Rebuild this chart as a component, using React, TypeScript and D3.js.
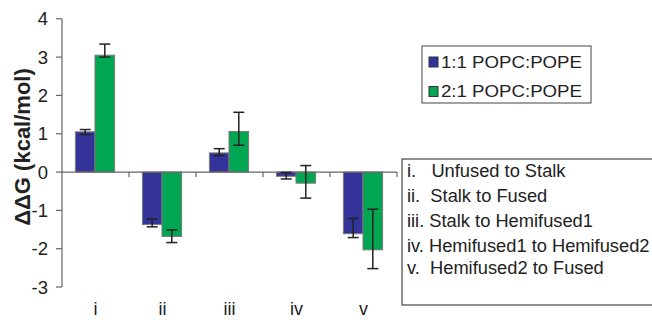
import React from "react";
import * as d3 from "d3";

const categories = ["i", "ii", "iii", "iv", "v"];
const seriesNames = ["1:1 POPC:POPE", "2:1 POPC:POPE"];
const seriesColors = ["#333399", "#00a651"];

// bar heights (kcal/mol)
const popc11 = [1.05, -1.37, 0.5, -0.11, -1.61];
const popc21 = [3.05, -1.68, 1.06, -0.29, -2.03];
// error bar ends, as drawn
const popc11Low = [0.98, -1.43, 0.43, -0.18, -1.71];
const popc11High = [1.11, -1.23, 0.61, -0.01, -1.21];
const popc21Low = [3.0, -1.84, 0.7, -0.68, -2.52];
const popc21High = [3.34, -1.51, 1.56, 0.17, -0.97];

const yTicks = [4, 3, 2, 1, 0, -1, -2, -3];

const stepLabels = [
  "i.   Unfused to Stalk",
  "ii.  Stalk to Fused",
  "iii. Stalk to Hemifused1",
  "iv. Hemifused1 to Hemifused2",
  "v.  Hemifused2 to Fused",
];

const font = "'Liberation Sans', Arial, sans-serif";

export default function App() {
  const width = 652;
  const height = 320;
  const plot = { left: 62, right: 397, top: 18.8, bottom: 287 };

  const y = d3.scaleLinear().domain([-3, 4]).range([plot.bottom, plot.top]);
  const x = d3
    .scaleBand<string>()
    .domain(categories)
    .range([plot.left, plot.right])
    .padding(0);
  const bw = x.bandwidth();
  const xs = d3
    .scaleBand<number>()
    .domain([0, 1])
    .range([bw * 0.2, bw * 0.785])
    .padding(0);

  const values = [popc11, popc21];
  const lows = [popc11Low, popc21Low];
  const highs = [popc11High, popc21High];
  const axisColor = "#666";
  const capHalf = 5.5;

  return (
    <svg
      width={width}
      height={height}
      style={{ position: "absolute", left: 0, top: 0, background: "#fff" }}
      fontFamily={font}
    >
      {/* bars */}
      {categories.map((c, ci) => (
        <g key={c} transform={`translate(${x(c)},0)`}>
          {values.map((vals, si) => {
            const v = vals[ci];
            const bx = xs(si) as number;
            return (
              <rect
                key={si}
                x={bx}
                y={y(Math.max(0, v))}
                width={xs.bandwidth()}
                height={Math.abs(y(v) - y(0))}
                fill={seriesColors[si]}
                stroke="#7a7a7a"
                strokeWidth={1}
              />
            );
          })}
        </g>
      ))}

      {/* x axis at zero */}
      <line x1={plot.left} x2={plot.right} y1={y(0)} y2={y(0)} stroke={axisColor} strokeWidth={1.2} />
      {categories.map((c) => (
        <line
          key={c}
          x1={(x(c) as number) + bw}
          x2={(x(c) as number) + bw}
          y1={y(0)}
          y2={y(0) + 5}
          stroke={axisColor}
          strokeWidth={1.2}
        />
      ))}

      {/* error bars */}
      {categories.map((c, ci) => (
        <g key={c} transform={`translate(${x(c)},0)`}>
          {values.map((_, si) => {
            const cx = (xs(si) as number) + xs.bandwidth() / 2;
            const lo = y(lows[si][ci]);
            const hi = y(highs[si][ci]);
            return (
              <g key={si} stroke="#222" strokeWidth={1.5}>
                <line x1={cx} x2={cx} y1={lo} y2={hi} />
                <line x1={cx - capHalf} x2={cx + capHalf} y1={lo} y2={lo} />
                <line x1={cx - capHalf} x2={cx + capHalf} y1={hi} y2={hi} />
              </g>
            );
          })}
        </g>
      ))}

      {/* y axis */}
      <line x1={plot.left} x2={plot.left} y1={y(4)} y2={y(-3)} stroke={axisColor} strokeWidth={1.2} />
      {yTicks.map((t) => (
        <g key={t} transform={`translate(${plot.left},${y(t)})`}>
          <line x1={-6} x2={0} stroke={axisColor} strokeWidth={1.2} />
          <text x={-14} dy="0.36em" textAnchor="end" fontSize={18.5} fill="#222">
            {t}
          </text>
        </g>
      ))}
      <text
        transform={`translate(30,147) rotate(-90)`}
        textAnchor="middle"
        fontSize={22}
        fontWeight="bold"
        fill="#222"
      >
        ΔΔG (kcal/mol)
      </text>

      {/* category labels */}
      {categories.map((c) => (
        <text
          key={c}
          x={(x(c) as number) + bw / 2}
          y={315}
          textAnchor="middle"
          fontSize={18}
          fill="#222"
        >
          {c}
        </text>
      ))}

      {/* series legend */}
      <g>
        <rect x={422} y={46} width={169} height={57} fill="#fff" stroke="#444" strokeWidth={1} />
        {seriesNames.map((n, i) => (
          <g key={n} transform={`translate(429,${62 + i * 29.5})`}>
            <rect x={0} y={-5} width={9} height={10} fill={seriesColors[i]} stroke="#333" strokeWidth={1} />
            <text
              x={12}
              dy="0.36em"
              fontSize={16}
              fill="#222"
              textLength={141}
              lengthAdjust="spacingAndGlyphs"
            >
              {n}
            </text>
          </g>
        ))}
      </g>

      {/* step legend */}
      <g>
        <rect x={402} y={159} width={260} height={146} fill="#fff" stroke="#444" strokeWidth={1.2} />
        {stepLabels.map((s, i) => (
          <text
            key={s}
            x={407}
            y={177 + i * 25 - (i === 4 ? 3 : 0)}
            fontSize={18.3}
            fill="#222"
            style={{ whiteSpace: "pre" }}
          >
            {s}
          </text>
        ))}
      </g>
    </svg>
  );
}
